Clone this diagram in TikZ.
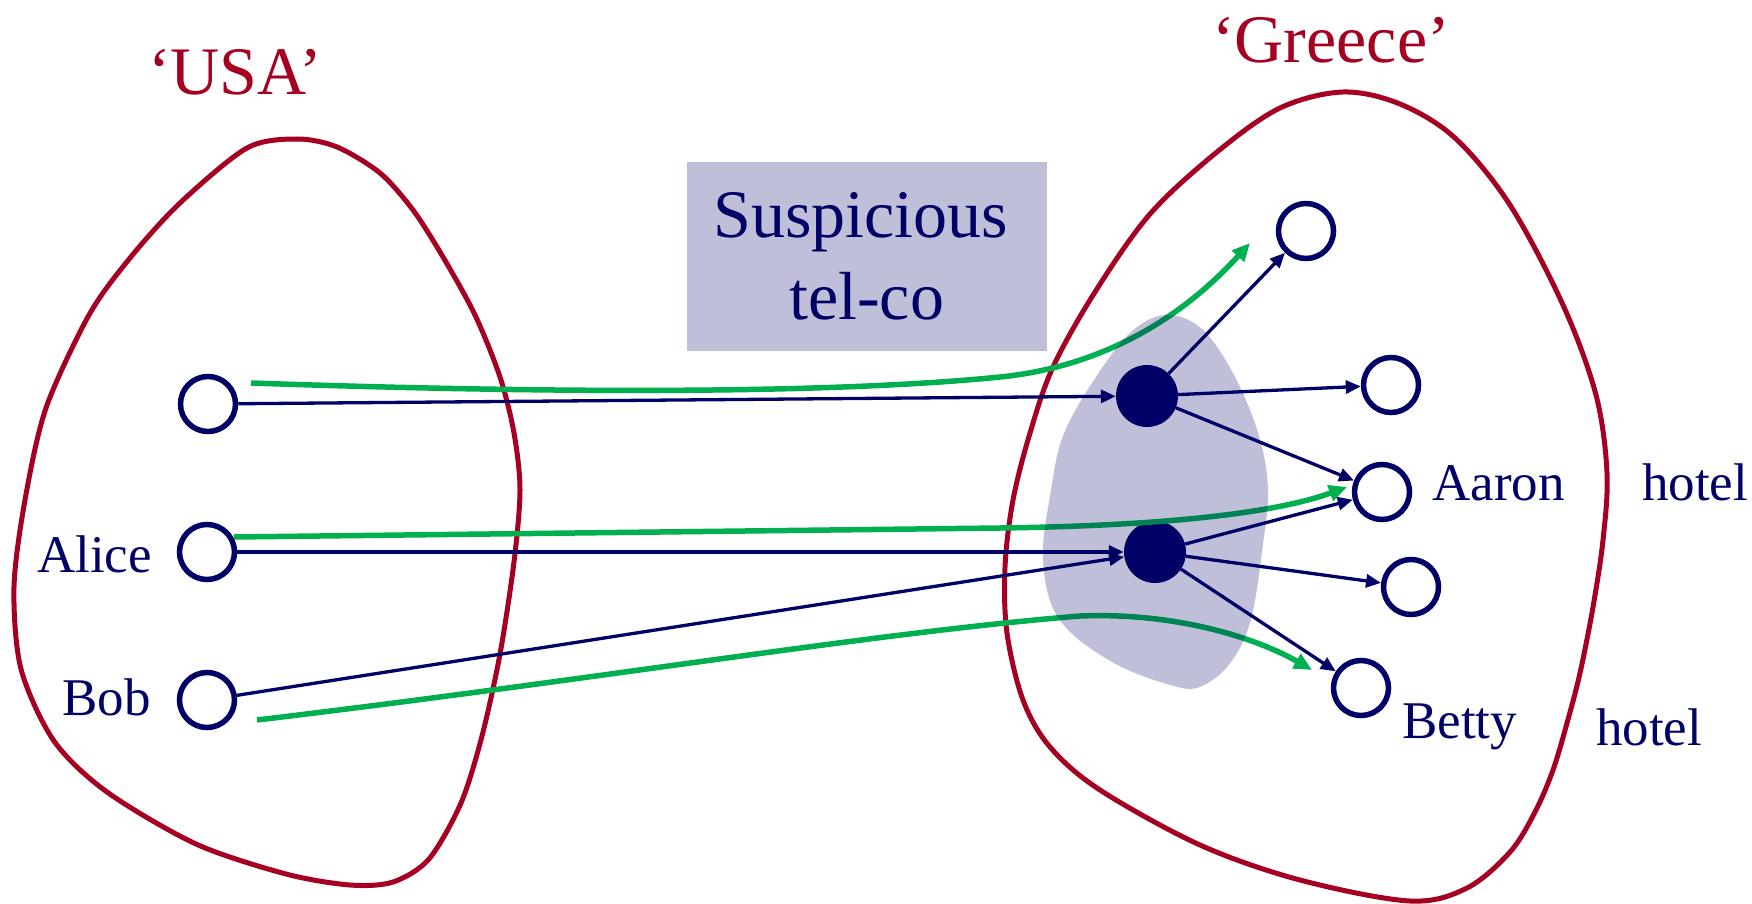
\documentclass[tikz,border=0pt]{standalone}
\usepackage{fontspec}
\setmainfont{Liberation Serif}
\usetikzlibrary{arrows.meta}
\definecolor{navyc}{RGB}{0,0,102}
\definecolor{redc}{RGB}{165,0,33}
\definecolor{greenc}{RGB}{0,176,80}
\newcommand\lblfont{\fontsize{53}{60}\selectfont}
\newcommand\ttlfont{\fontsize{68}{82}\selectfont}
\tikzset{
  region/.style={draw=redc, line width=5pt},
  wcirc/.style={circle, draw=navyc, line width=5.5pt, fill=white, minimum size=55pt, inner sep=0pt},
  bcirc/.style={circle, fill=navyc, minimum size=62pt, inner sep=0pt},
  lbl/.style={text=navyc, font=\lblfont, inner sep=0pt, anchor=base west},
  ttl/.style={text=redc, font=\ttlfont, inner sep=0pt, anchor=base},
  telcobox/.style={fill=navyc!25, text=navyc, font=\ttlfont, align=center,
    minimum width=360pt, minimum height=188pt, inner sep=0pt},
  narrow/.style={draw=navyc, line width=3.3pt, -{Triangle[length=15pt,width=13pt]}},
  garrow/.style={draw=greenc, line width=5.5pt, -{Triangle[length=18pt,width=16pt]}},
  shade/.style={fill=navyc, fill opacity=0.25}
}
\begin{document}
\begin{tikzpicture}[x=1pt,y=-1pt]
\useasboundingbox (0,0) rectangle (1752,904);
% regions
\draw[region] plot[smooth cycle, tension=0.5] coordinates {
 (297,139) (337,147) (380,173) (413,210) (443,257) (475,315) (500,377) (514,433)
 (520,490) (514,562) (500,654) (482,736) (461,803) (429,859) (393,882) (350,885)
 (286,874) (196,844) (107,792) (54,741) (21,669) (14,587) (25,500) (46,408)
 (89,315) (130,258) (180,203) (247,148)};
\draw[region] plot[smooth cycle, tension=0.55] coordinates {
 (1343,92) (1400,104) (1455,138) (1510,205) (1563,305) (1596,395) (1607,473)
 (1603,540) (1593,607) (1580,673) (1567,723) (1553,770) (1535,812) (1510,852)
 (1467,888) (1410,901) (1300,880) (1200,845) (1100,790) (1050,747) (1023,700)
 (1007,633) (1005,567) (1013,500) (1030,433) (1053,367) (1095,292) (1150,214)
 (1217,152) (1280,108)};
\node[ttl] (usa) at (235,95) {‘USA’};
\node[ttl] (greece) at (1331,63) {‘Greece’};
\node[telcobox] (telco) at (866.7,256.5) {Suspicious\kern12pt\\tel-co};
% nodes
\node[wcirc] (s1) at (208,404) {};
\node[wcirc] (alice) at (207,552) {};
\node[wcirc] (bob) at (207,700) {};
\node[bcirc] (m1) at (1147,396) {};
\node[bcirc] (m2) at (1155,552) {};
\node[wcirc] (t1) at (1306,231) {};
\node[wcirc] (t2) at (1391,385) {};
\node[wcirc] (aaron) at (1382,492) {};
\node[wcirc] (t4) at (1411,587) {};
\node[wcirc] (betty) at (1361,688) {};
% labels
\node[lbl] (alicelbl) at (37,572) {Alice};
\node[lbl] (boblbl) at (62,715) {Bob};
\node[lbl] (aaronlbl) at (1432,500) {Aaron};
\node[lbl] (hotela) at (1642,500) {hotel};
\node[lbl] (bettylbl) at (1402,738) {Betty};
\node[lbl] (hotelb) at (1596,745) {hotel};
% green arrows
\coordinate (g1s) at (251,383); \coordinate (g1e) at (1250,243);
\coordinate (g2s) at (234,537); \coordinate (g2e) at (1347,487);
\coordinate (g3s) at (257,720); \coordinate (g3e) at (1312,670);
\draw[garrow] (g1s) .. controls (600,395) and (850,392) .. (1000,377)
   .. controls (1100,367) and (1180,320) .. (g1e);
\draw[garrow] (g2s) -- (1000,528) .. controls (1150,526) and (1270,515) .. (g2e);
\draw[garrow] (g3s) .. controls (600,679) and (880,632) .. (1080,616)
   .. controls (1180,612) and (1260,640) .. (g3e);
% shaded tel-co region
\fill[shade] plot[smooth cycle, tension=0.6] coordinates {
 (1165,315) (1202,329) (1235,377) (1259,436) (1268,490) (1263,544) (1251,619)
 (1231,662) (1202,686) (1174,686) (1112,662) (1059,619) (1043,560) (1051,490)
 (1063,436) (1092,383) (1129,334)};
% navy arrows
\draw[narrow] (s1) -- (m1);
\draw[narrow] (alice) -- (m2);
\draw[narrow] (bob) -- (m2);
\draw[narrow] (m1) -- (t1);
\draw[narrow] (m1) -- (t2);
\draw[narrow] (m1) -- (aaron);
\draw[narrow] (m2) -- (aaron);
\draw[narrow] (m2) -- (t4);
\draw[narrow] (m2) -- (betty);
\end{tikzpicture}
\end{document}
